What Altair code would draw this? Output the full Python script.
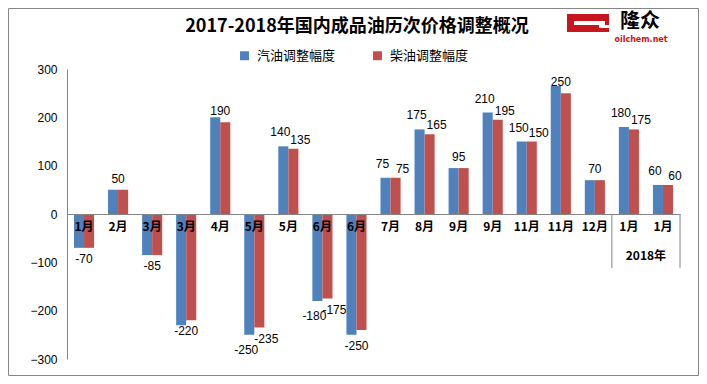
import json
import altair as alt
import pandas as pd

# ---------------- data ----------------
cats = ["1月", "2月", "3月", "3月", "4月", "5月", "5月", "6月", "6月", "7月",
        "8月", "9月", "9月", "11月", "11月", "12月", "1月", "1月"]
gasoline = [-70, 50, -85, -230, 200, -250, 140, -180, -250, 75, 175, 95, 210, 150, 265, 70, 180, 60]
diesel = [-70, 50, -85, -220, 190, -235, 135, -175, -240, 75, 165, 95, 195, 150, 250, 70, 175, 60]
series_names = ["汽油调整幅度", "柴油调整幅度"]
colors = ["#4F81BD", "#C0504D"]

label_idx = [0, 1, 2, 3, 4, 5, 5, 6, 6, 7, 7, 8, 9, 9, 10, 10, 11, 12, 12, 13, 13, 14, 15, 16, 16, 17, 17]
label_text = ["-70", "50", "-85", "-220", "190", "-250", "-235", "140", "135", "-180", "-175", "-250",
              "75", "75", "175", "165", "95", "210", "195", "150", "150", "250", "70", "180", "175", "60", "60"]
label_kind = ["c", "c", "c", "c", "c", "g", "d", "g", "d", "g", "d", "c", "g", "d", "g", "d", "c",
              "g", "d", "g", "d", "c", "c", "g", "d", "g", "d"]

year_label = "2018年"
year_start = 16
title_text = "2017-2018年国内成品油历次价格调整概况"

# ---------------- tables ----------------
rows = []
for i in range(len(cats)):
    rows.append({"i": i, "s": series_names[0], "v": gasoline[i]})
    rows.append({"i": i, "s": series_names[1], "v": diesel[i]})
bars_df = pd.DataFrame(rows)

kind_series = {"g": series_names[0], "d": series_names[1], "c": ""}
labels_df = pd.DataFrame({
    "i": label_idx,
    "t": label_text,
    "v": [float(t) for t in label_text],
    "k": label_kind,
    "s": [kind_series[k] for k in label_kind],
})

W, H = 613, 290
STEP = W / len(cats)
FONT = "Noto Sans CJK SC"

xscale = alt.Scale(paddingInner=0.41, paddingOuter=0.205)
yscale = alt.Scale(domain=[-300, 300], nice=False)

bars = alt.Chart(bars_df).mark_bar().encode(
    x=alt.X("i:O", scale=xscale, sort=None,
            axis=alt.Axis(title=None, labelAngle=0, ticks=False, domainColor="#868686",
                          offset=-H / 2, labelPadding=7, labelFont=FONT, labelFontWeight="bold",
                          labelFontSize=12, labelColor="#000", zindex=2,
                          labelExpr=json.dumps(cats, ensure_ascii=False) + "[datum.value]")),
    xOffset=alt.XOffset("s:N", sort=series_names, scale=alt.Scale(domain=series_names)),
    y=alt.Y("v:Q", scale=yscale,
            axis=alt.Axis(title=None, values=[-300, -200, -100, 0, 100, 200, 300], grid=False,
                          ticks=False, domainColor="#868686", labelFont="Liberation Sans",
                          labelFontSize=12, labelColor="#000", labelPadding=10)),
    color=alt.Color("s:N", scale=alt.Scale(domain=series_names, range=colors),
                    legend=alt.Legend(orient="none", legendX=171, legendY=-20, direction="horizontal",
                                      title=None, symbolType="square", symbolSize=80,
                                      symbolStrokeWidth=0, labelFont=FONT, labelFontSize=13,
                                      labelColor="#000", columnPadding=35, labelOffset=6)),
)


def label_layer(kind, positive, dx, dy):
    cond = "datum.v >= 0" if positive else "datum.v < 0"
    enc = dict(x=alt.X("i:O", sort=None), y=alt.Y("v:Q"), text="t:N")
    if kind != "c":
        enc["xOffset"] = alt.XOffset("s:N", sort=series_names)
    return (alt.Chart(labels_df)
            .transform_filter(f"datum.k == '{kind}' && {cond}")
            .mark_text(baseline="middle", align="center", dx=dx, dy=dy,
                       font="Liberation Sans", fontSize=12, color="#000")
            .encode(**enc))


label_layers = [
    label_layer("g", True, -3, -14), label_layer("g", False, -3, 15),
    label_layer("d", True, 7, -9), label_layer("d", False, 7, 11),
    label_layer("c", True, 0, -11), label_layer("c", False, 0, 11),
]

year_df = pd.DataFrame({"i": [year_start], "j": [len(cats) - 1], "t": [year_label]})
rule_left = alt.Chart(year_df).mark_rule(color="#868686", xOffset=-STEP / 2).encode(
    x=alt.X("i:O", sort=None), y=alt.datum(0), y2=alt.datum(-112))
rule_right = alt.Chart(year_df).mark_rule(color="#868686", xOffset=STEP / 2).encode(
    x=alt.X("j:O", sort=None), y=alt.datum(0), y2=alt.datum(-112))
year_text = alt.Chart(year_df).mark_text(font=FONT, fontWeight="bold", fontSize=12, color="#000",
                                         dx=STEP / 2, baseline="middle").encode(
    x=alt.X("i:O", sort=None), y=alt.datum(-87), text="t:N")

# title, frame and logo (decoration)
deco_df = pd.DataFrame({"title": [title_text], "a": ["隆众"], "b": ["oilchem.net"]})
frame = alt.Chart(deco_df).mark_rect(fill="white", fillOpacity=0, stroke="#868686", strokeWidth=1).encode(
    x=alt.value(-58.5), x2=alt.value(W + 18.5), y=alt.value(-60.5), y2=alt.value(H + 16.5))
title = alt.Chart(deco_df).mark_text(font=FONT, fontWeight="bold", fontSize=18, color="#000",
                                     align="center", baseline="middle").encode(
    x=alt.value(290), y=alt.value(-42), text="title:N")
logo_red = alt.Chart(deco_df).mark_rect(color="#C8161D").encode(
    x=alt.value(500), x2=alt.value(542), y=alt.value(-55), y2=alt.value(-37))
logo_w1 = alt.Chart(deco_df).mark_rect(color="#ffffff").encode(
    x=alt.value(507), x2=alt.value(538), y=alt.value(-48), y2=alt.value(-44))
logo_w2 = alt.Chart(deco_df).mark_rect(color="#ffffff").encode(
    x=alt.value(532), x2=alt.value(542), y=alt.value(-44), y2=alt.value(-41))
logo_t1 = alt.Chart(deco_df).mark_text(font=FONT, fontWeight="bold", fontSize=20, color="#000",
                                       align="center", baseline="middle").encode(
    x=alt.value(573), y=alt.value(-47), text="a:N")
logo_t2 = alt.Chart(deco_df).mark_text(font="DejaVu Sans", fontWeight="bold", fontSize=8,
                                       color="#C8161D", align="center", baseline="middle").encode(
    x=alt.value(574), y=alt.value(-29), text="b:N")

chart = alt.layer(frame, bars, *label_layers, rule_left, rule_right, year_text, title,
                  logo_red, logo_w1, logo_w2, logo_t1, logo_t2).properties(
    width=W, height=H,
    autosize=alt.AutoSizeParams(type="none"),
    padding={"left": 59, "top": 61, "right": 19, "bottom": 17},
    background="white",
).configure_view(stroke=None)

chart.save("out.html", embed_options={"renderer": "svg", "actions": False})
